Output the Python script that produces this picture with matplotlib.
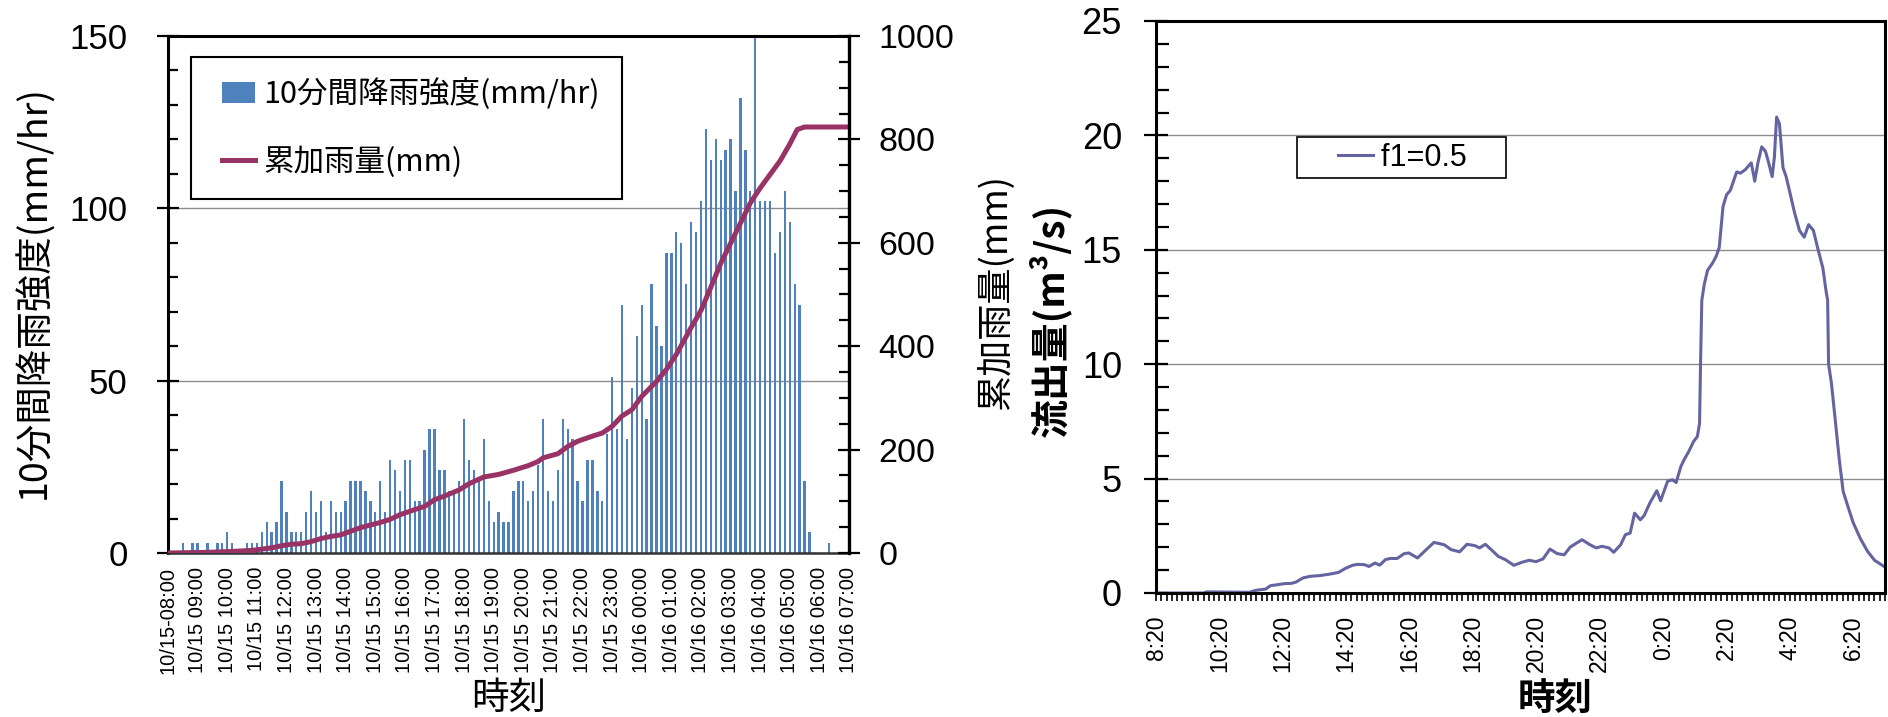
import matplotlib
matplotlib.use("Agg")
import matplotlib.pyplot as plt
from matplotlib.lines import Line2D
from matplotlib.patches import Patch
from matplotlib.legend_handler import HandlerLine2D, HandlerPatch
from matplotlib.ticker import MultipleLocator
import numpy as np

plt.rcParams['font.family'] = ['Noto Sans CJK JP', 'DejaVu Sans']
NUM_FONT = ['Liberation Sans', 'DejaVu Sans']

BAR_BLUE = '#4F81BD'
LINE_PLUM = '#993366'
RUNOFF_BLUE = '#6464A0'
GRID_GRAY = '#8c8c8c'

# 10-minute rainfall intensity (mm/hr), one value per 10 min
# from 10/15 08:00 to 10/16 07:00
rain_intensity = [
    0, 0, 0, 3, 0, 3, 3, 0, 3, 0,
    3, 3, 6, 3, 0, 0, 3, 3, 3, 6,
    9, 6, 9, 21, 12, 6, 6, 6, 12, 18,
    12, 15, 6, 15, 12, 12, 15, 21, 21, 21,
    18, 15, 12, 21, 12, 27, 24, 18, 27, 27,
    15, 15, 30, 36, 36, 24, 24, 18, 18, 21,
    39, 27, 24, 21, 33, 15, 9, 12, 9, 9,
    18, 21, 21, 15, 18, 25.5, 39, 18, 15, 24,
    39, 36, 33, 21, 15, 27, 27, 18, 15, 34.5,
    51, 36, 72, 33, 48, 63, 72, 39, 78, 66,
    60, 87, 87, 93, 90, 78, 96, 93, 102, 123,
    114, 120, 114, 117, 120, 105, 132, 117, 105, 150,
    102, 102, 102, 87, 93, 105, 96, 78, 72, 21,
    6, 0, 0, 0, 3, 0, 0, 0, 0,
]

# cumulative rainfall (mm); x in 10-min steps from 08:00
cum_step = [0, 8, 13, 17, 21, 23, 25, 27, 29, 31,
            33, 35, 37, 39, 41, 43, 45, 47, 50, 52,
            54, 56, 59, 61, 64, 67, 70, 73, 75, 76,
            79, 81, 83, 86, 88, 90, 92, 94, 96, 99,
            101, 103, 106, 108, 110, 112, 114, 116, 118, 120,
            122, 124, 126, 127.5, 129, 138]
cum_mm = [0, 1.3, 3, 5, 10, 14, 17, 18, 22, 28,
          32, 35, 42, 49, 54, 59, 65, 74, 84, 90,
          103, 110, 122, 134, 147, 152, 160, 169, 177, 184,
          192, 206, 216, 226, 232, 245, 265, 277, 303, 332,
          355, 384, 436, 469, 514, 560, 599, 638, 677, 706,
          732, 758, 791, 819, 824, 824]

rain_hour_labels = [
    "10/15-08:00", "10/15 09:00", "10/15 10:00", "10/15 11:00",
    "10/15 12:00", "10/15 13:00", "10/15 14:00", "10/15 15:00",
    "10/15 16:00", "10/15 17:00", "10/15 18:00", "10/15 19:00",
    "10/15 20:00", "10/15 21:00", "10/15 22:00", "10/15 23:00",
    "10/16 00:00", "10/16 01:00", "10/16 02:00", "10/16 03:00",
    "10/16 04:00", "10/16 05:00", "10/16 06:00", "10/16 07:00",
]

# runoff (m3/s); x in hours after 8:20
runoff_h = [0.00, 1.50, 1.60, 2.94, 3.16, 3.46, 3.61, 3.83, 4.05, 4.27,
            4.42, 4.64, 4.87, 5.16, 5.46, 5.76, 5.98, 6.20, 6.35, 6.57,
            6.72, 6.91, 7.06, 7.24, 7.39, 7.61, 7.83, 7.98, 8.25, 8.50,
            8.77, 9.09, 9.32, 9.58, 9.81, 10.06, 10.21, 10.39, 10.58, 10.80,
            11.02, 11.29, 11.54, 11.77, 11.99, 12.21, 12.43, 12.66, 12.88, 13.07,
            13.44, 13.69, 13.89, 14.07, 14.29, 14.44, 14.66, 14.81, 14.96, 15.10,
            15.28, 15.40, 15.58, 15.80, 15.92, 16.14, 16.29, 16.41, 16.56, 16.66,
            16.81, 16.96, 17.08, 17.15, 17.18, 17.22, 17.30, 17.40, 17.55, 17.67,
            17.77, 17.89, 18.00, 18.12, 18.22, 18.32, 18.44, 18.59, 18.78, 18.89,
            18.99, 19.11, 19.23, 19.33, 19.44, 19.51, 19.58, 19.67, 19.78, 19.88,
            20.00, 20.15, 20.30, 20.45, 20.59, 20.74, 20.89, 21.04, 21.14, 21.19,
            21.22, 21.31, 21.42, 21.56, 21.68, 21.83, 22.00, 22.23, 22.45, 22.67,
            22.97, 23.00]
runoff_q = [0.00, 0.00, 0.05, 0.03, 0.12, 0.17, 0.32, 0.36, 0.41, 0.42,
            0.48, 0.66, 0.73, 0.76, 0.82, 0.90, 1.08, 1.21, 1.25, 1.24,
            1.16, 1.31, 1.22, 1.46, 1.51, 1.51, 1.72, 1.75, 1.53, 1.86,
            2.21, 2.11, 1.89, 1.80, 2.13, 2.07, 1.97, 2.13, 1.89, 1.60,
            1.46, 1.21, 1.34, 1.43, 1.37, 1.49, 1.92, 1.72, 1.67, 2.01,
            2.33, 2.11, 1.97, 2.04, 1.97, 1.78, 2.11, 2.55, 2.62, 3.49,
            3.20, 3.38, 3.93, 4.47, 4.03, 4.88, 4.95, 4.83, 5.53, 5.82,
            6.19, 6.62, 6.84, 7.42, 10.0, 12.8, 13.5, 14.1, 14.4, 14.7,
            15.1, 16.9, 17.4, 17.6, 18.0, 18.4, 18.35, 18.5, 18.8, 18.0,
            18.8, 19.5, 19.3, 18.8, 18.2, 19.05, 20.8, 20.5, 18.6, 18.2,
            17.5, 16.6, 15.85, 15.55, 16.1, 15.85, 15.0, 14.2, 13.2, 12.8,
            10.0, 9.17, 7.7, 5.8, 4.44, 3.78, 3.06, 2.36, 1.82, 1.43,
            1.16, 1.12]

runoff_tick_hours = [0, 2, 4, 6, 8, 10, 12, 14, 16, 18, 20, 22]
runoff_tick_labels = ["8:20", "10:20", "12:20", "14:20", "16:20", "18:20",
                      "20:20", "22:20", "0:20", "2:20", "4:20", "6:20"]

W, H = 1888, 717


def px_box(x0, y0, x1, y1):
    """Axes rectangle from pixel edges (top-left origin)."""
    return [x0 / W, 1 - y1 / H, (x1 - x0) / W, (y1 - y0) / H]


fig = plt.figure(figsize=(W / 100, H / 100), dpi=100)

# ---------------- left: rainfall ----------------
ax1 = fig.add_axes(px_box(168, 36, 849, 553))
steps = np.arange(len(rain_intensity))
ax1.bar(steps, rain_intensity, width=0.48, color=BAR_BLUE, zorder=2)
ax1.set_xlim(0, len(rain_intensity) - 1)
ax1.set_ylim(0, 150)
ax1.yaxis.set_major_locator(MultipleLocator(50))
ax1.yaxis.set_minor_locator(MultipleLocator(10))
ax1.set_xticks(steps[::6])
ax1.set_xticklabels(rain_hour_labels, rotation=90)
ax1.tick_params(axis='x', length=0, pad=10, labelsize=14.5,
                labelfontfamily=NUM_FONT)
ax1.tick_params(axis='y', which='major', direction='inout', length=16,
                width=1.6, labelsize=25, pad=21, labelfontfamily=NUM_FONT)
ax1.tick_params(axis='y', which='minor', direction='in', length=7, width=1.6)
ax1.grid(axis='y', which='major', color=GRID_GRAY, lw=1)
ax1.set_axisbelow(True)
for side in ['left', 'top']:
    ax1.spines[side].set_linewidth(2.2)
ax1.spines['bottom'].set_linewidth(1.8)
ax1.spines['bottom'].set_color('#333333')
ax1.spines['right'].set_visible(False)

ax2 = ax1.twinx()
ax2.plot(cum_step, cum_mm, color=LINE_PLUM, lw=3.6, solid_joinstyle='round')
ax2.set_ylim(0, 1000)
ax2.yaxis.set_major_locator(MultipleLocator(200))
ax2.yaxis.set_minor_locator(MultipleLocator(50))
ax2.tick_params(axis='y', which='major', direction='inout', length=16,
                width=1.6, labelsize=24.5, pad=13, labelfontfamily=NUM_FONT)
ax2.tick_params(axis='y', which='minor', direction='in', length=7, width=1.6)
for side in ['left', 'top', 'bottom']:
    ax2.spines[side].set_visible(False)
ax2.spines['right'].set_linewidth(2.4)

leg1 = ax2.legend(
    handles=[Patch(facecolor=BAR_BLUE, edgecolor='none'),
             Line2D([], [], color=LINE_PLUM, lw=3.6)],
    labels=["10分間降雨強度(mm/hr)", "累加雨量(mm)"],
    loc='upper left', bbox_to_anchor=(191 / W, 1 - 57 / H),
    bbox_transform=fig.transFigure, borderaxespad=0,
    fontsize=22, borderpad=0.7, labelspacing=1.18, handlelength=1.39,
    handletextpad=0.29, handleheight=0.7, fancybox=False, framealpha=1,
    edgecolor='black',
    handler_map={Patch: HandlerPatch(xpad=0.31), Line2D: HandlerLine2D(xpad=0.31)},
)
leg1.get_frame().set_linewidth(1.5)

# ---------------- right: runoff ----------------
ax3 = fig.add_axes(px_box(1156, 21, 1885, 593))
ax3.plot(runoff_h, runoff_q, color=RUNOFF_BLUE, lw=2.2)
ax3.set_xlim(0, 23)
ax3.set_ylim(0, 25)
ax3.set_xticks(runoff_tick_hours)
ax3.set_xticklabels(runoff_tick_labels, rotation=90)
ax3.xaxis.set_minor_locator(MultipleLocator(1 / 6))
ax3.yaxis.set_major_locator(MultipleLocator(5))
ax3.yaxis.set_minor_locator(MultipleLocator(1))
ax3.tick_params(axis='x', which='both', direction='out', length=6, width=1.2,
                pad=10, labelsize=16.5, labelfontfamily=NUM_FONT)
ax3.tick_params(axis='y', which='major', direction='inout', length=17,
                width=1.6, labelsize=26, pad=16, labelfontfamily=NUM_FONT)
ax3.tick_params(axis='y', which='minor', direction='in', length=9, width=1.6)
ax3.grid(axis='y', which='major', color=GRID_GRAY, lw=1)
ax3.set_axisbelow(True)
for sp in ax3.spines.values():
    sp.set_linewidth(2.2)

leg3 = ax3.legend(
    handles=[Line2D([], [], color=RUNOFF_BLUE, lw=2.2)], labels=["f1=0.5    "],
    loc='upper left', bbox_to_anchor=(1297 / W, 1 - 137 / H),
    bbox_transform=fig.transFigure, borderaxespad=0,
    prop={'family': NUM_FONT, 'size': 22}, borderpad=0.18,
    handlelength=2.31, handletextpad=0.26, fancybox=False, framealpha=1,
    edgecolor='black', handler_map={Line2D: HandlerLine2D(xpad=1.16)},
)
leg3.get_frame().set_linewidth(1.2)

# ---------------- axis titles ----------------
fig.text(35 / W, 1 - 292 / H, "10分間降雨強度(mm/hr)", rotation=90,
         ha='center', va='center', fontsize=27)
fig.text(509 / W, 1 - 698 / H, "時刻", ha='center', va='center', fontsize=27)
fig.text(996 / W, 1 - 292 / H, "累加雨量(mm)", rotation=90,
         ha='center', va='center', fontsize=26)
fig.text(1050 / W, 1 - 320 / H, "流出量(m³/s)", rotation=90,
         ha='center', va='center', fontsize=28, fontweight='bold')
fig.text(1555 / W, 1 - 698 / H, "時刻", ha='center', va='center',
         fontsize=27, fontweight='bold')

fig.savefig("out.png", dpi=100)
